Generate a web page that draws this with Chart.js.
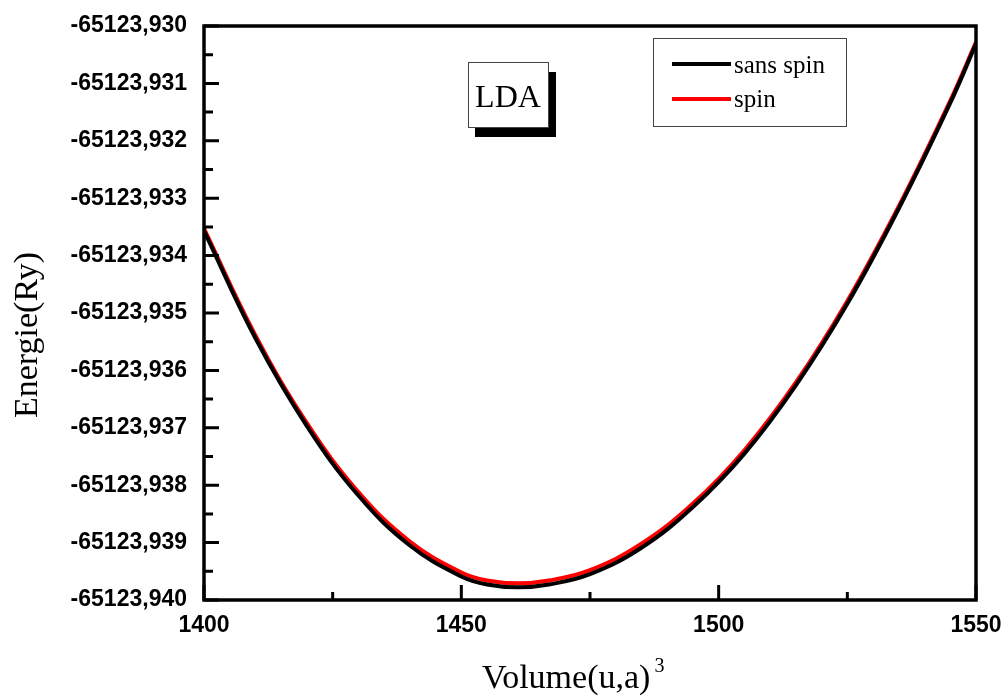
<!DOCTYPE html>
<html><head><meta charset="utf-8">
<script src="https://cdn.jsdelivr.net/npm/chart.js@4.4.0/dist/chart.umd.min.js"></script>
<style>html,body{margin:0;padding:0;background:#fff}#wrap{width:1007px;height:699px;position:relative}</style>
</head><body><div id="wrap"><canvas id="c" width="1007" height="699"></canvas></div>
<script>
// ---- data ----
const volumes = [1400, 1410, 1420, 1430, 1440, 1450, 1455, 1461, 1467, 1475, 1485, 1495, 1505, 1515, 1525, 1535, 1545, 1550];
const energySansSpin = [-65123.93357, -65123.93544, -65123.93697, -65123.93818, -65123.93905, -65123.93959, -65123.93973, -65123.93978, -65123.93973, -65123.93955, -65123.93909, -65123.93838, -65123.93745, -65123.93626, -65123.93484, -65123.93318, -65123.93134, -65123.93031];
const energySpin = [-65123.93353, -65123.93539, -65123.93692, -65123.93812, -65123.93898, -65123.93952, -65123.93966, -65123.93971, -65123.93966, -65123.93948, -65123.93902, -65123.93832, -65123.93739, -65123.93621, -65123.93479, -65123.93314, -65123.93130, -65123.93028];
const seriesLabels = ['sans spin', 'spin'];
const seriesColors = ['#000000', '#ff0000'];
const xTickValues = [1400, 1450, 1500, 1550];
const xTickLabels = ['1400', '1450', '1500', '1550'];
const xMinorValues = [1425, 1475, 1525];
const yTickValues = [-65123.940, -65123.939, -65123.938, -65123.937, -65123.936, -65123.935, -65123.934, -65123.933, -65123.932, -65123.931, -65123.930];
const yTickLabels = ['-65123,940', '-65123,939', '-65123,938', '-65123,937', '-65123,936', '-65123,935', '-65123,934', '-65123,933', '-65123,932', '-65123,931', '-65123,930'];
const yMinorValues = [-65123.9395, -65123.9385, -65123.9375, -65123.9365, -65123.9355, -65123.9345, -65123.9335, -65123.9325, -65123.9315, -65123.9305];
const panelLabel = 'LDA';
const xTitle = 'Volume(u,a)';
const xTitleSup = '3';
const yTitle = 'Energie(Ry)';

const serif = "'Liberation Serif', 'Times New Roman', serif";
const sans = "'Liberation Sans', Arial, sans-serif";

const decor = {
  id: 'decor',
  afterDatasetsDraw(chart) {
    const ctx = chart.ctx;
    const a = chart.chartArea;
    const xs = chart.scales.x, ys = chart.scales.y;
    ctx.save();
    ctx.strokeStyle = '#000';
    ctx.lineWidth = 3.5;
    ctx.strokeRect(a.left, a.top, a.right - a.left, a.bottom - a.top);
    ctx.lineWidth = 3;
    ctx.beginPath();
    yTickValues.forEach(v => { const y = ys.getPixelForValue(v); ctx.moveTo(a.left, y); ctx.lineTo(a.left + 15, y); });
    yMinorValues.forEach(v => { const y = ys.getPixelForValue(v); ctx.moveTo(a.left, y); ctx.lineTo(a.left + 9, y); });
    xTickValues.forEach(v => { const x = xs.getPixelForValue(v); ctx.moveTo(x, a.bottom); ctx.lineTo(x, a.bottom - 15); });
    xMinorValues.forEach(v => { const x = xs.getPixelForValue(v); ctx.moveTo(x, a.bottom); ctx.lineTo(x, a.bottom - 8); });
    ctx.stroke();

    // LDA box
    ctx.fillStyle = '#000';
    ctx.fillRect(475, 72, 81, 65);
    ctx.fillStyle = '#fff';
    ctx.fillRect(468, 62, 80, 65);
    ctx.strokeStyle = '#444';
    ctx.lineWidth = 1;
    ctx.strokeRect(468.5, 62.5, 80, 65);
    ctx.fillStyle = '#000';
    ctx.font = '32px ' + serif;
    ctx.textAlign = 'center';
    ctx.textBaseline = 'alphabetic';
    ctx.fillText(panelLabel, 508, 107);

    // legend
    ctx.fillStyle = '#fff';
    ctx.fillRect(653, 38, 193, 88);
    ctx.strokeStyle = '#444';
    ctx.lineWidth = 1;
    ctx.strokeRect(653.5, 38.5, 193, 88);
    const rows = [64, 99];
    const textBase = [73, 107];
    chart.data.datasets.forEach((ds, i) => {
      ctx.strokeStyle = ds.borderColor;
      ctx.lineWidth = 4;
      ctx.beginPath();
      ctx.moveTo(672, rows[i]); ctx.lineTo(731, rows[i]);
      ctx.stroke();
      ctx.fillStyle = '#000';
      ctx.font = '25px ' + serif;
      ctx.textAlign = 'left';
      ctx.fillText(ds.label, 734, textBase[i]);
    });
    ctx.restore();
  },
  afterDraw(chart) {
    const ctx = chart.ctx;
    ctx.save();
    ctx.fillStyle = '#000';
    ctx.font = '34px ' + serif;
    ctx.textAlign = 'left';
    ctx.textBaseline = 'alphabetic';
    ctx.fillText(xTitle, 482, 688);
    const w = ctx.measureText(xTitle).width;
    ctx.font = '20px ' + serif;
    ctx.fillText(xTitleSup, 482 + w + 4, 672);
    ctx.translate(37, 418);
    ctx.rotate(-Math.PI / 2);
    ctx.font = '34px ' + serif;
    ctx.fillText(yTitle, 0, 0);
    ctx.restore();
  }
};

new Chart(document.getElementById('c'), {
  type: 'line',
  data: {
    datasets: [
      { label: seriesLabels[0], data: volumes.map((v, i) => ({ x: v, y: energySansSpin[i] })), borderColor: seriesColors[0], borderWidth: 4, pointRadius: 0, tension: 0.4, fill: false },
      { label: seriesLabels[1], data: volumes.map((v, i) => ({ x: v, y: energySpin[i] })), borderColor: seriesColors[1], borderWidth: 4, pointRadius: 0, tension: 0.4, fill: false }
    ]
  },
  options: {
    responsive: false,
    animation: false,
    devicePixelRatio: 1,
    layout: { padding: { left: 0, top: 26, right: 31, bottom: 0 } },
    plugins: { legend: { display: false }, tooltip: { enabled: false }, title: { display: false } },
    scales: {
      x: {
        type: 'linear', min: 1400, max: 1550,
        afterBuildTicks: s => { s.ticks = xTickValues.map(v => ({ value: v })); },
        afterFit: s => { s.height = 99; s.paddingLeft = 0; s.paddingRight = 0; },
        ticks: { callback: (v) => xTickLabels[xTickValues.indexOf(v)], font: { family: sans, weight: 'bold', size: 23 }, color: '#000', padding: 12, maxRotation: 0, autoSkip: false },
        grid: { display: false, drawTicks: false },
        border: { display: false }
      },
      y: {
        type: 'linear', min: -65123.940, max: -65123.930,
        afterBuildTicks: s => { s.ticks = yTickValues.map(v => ({ value: v })); },
        afterFit: s => { s.width = 204; s.paddingTop = 0; s.paddingBottom = 0; },
        ticks: { callback: (v, i) => yTickLabels[i], font: { family: sans, weight: 'bold', size: 23 }, color: '#000', padding: 17, autoSkip: false },
        grid: { display: false, drawTicks: false },
        border: { display: false }
      }
    }
  },
  plugins: [decor]
});
</script>
</body></html>
